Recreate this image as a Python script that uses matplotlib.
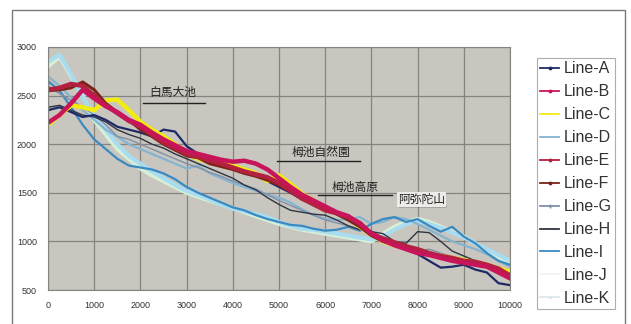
import numpy as np
import matplotlib
matplotlib.use("Agg")
import matplotlib.pyplot as plt
from matplotlib.patches import Rectangle

plt.rcParams['font.family'] = ['Liberation Sans', 'Noto Sans CJK JP', 'DejaVu Sans']

### Data
dist = list(range(0, 10001, 250))

line_a = [2350, 2380, 2330, 2280, 2300, 2250, 2180, 2150, 2120, 2080, 2150, 2130, 1980, 1900, 1870, 1820, 1760,
          1720, 1680, 1620, 1560, 1500, 1430, 1390, 1340, 1300, 1240, 1170, 1100, 1020, 980, 920, 870, 800, 730,
          740, 760, 710, 680, 570, 550]
line_b = [2220, 2300, 2420, 2560, 2470, 2390, 2330, 2250, 2200, 2120, 2050, 1990, 1930, 1900, 1870, 1840, 1820,
          1830, 1800, 1740, 1650, 1560, 1480, 1420, 1360, 1300, 1260, 1180, 1080, 1010, 960, 920, 880, 860, 830,
          800, 780, 760, 740, 680, 620]
line_c = [2200, 2300, 2400, 2380, 2350, 2450, 2460, 2350, 2230, 2150, 2080, 2000, 1900, 1850, 1820, 1800, 1780,
          1740, 1700, 1620, 1680, 1590, 1490, 1420, 1340, 1290, 1240, 1150, 1070, 1000, 960, 930, 900, 870, 850,
          830, 810, 780, 760, 720, 690]
line_d = [2700, 2600, 2480, 2350, 2250, 2150, 2080, 2000, 1950, 1900, 1850, 1800, 1750, 1780, 1700, 1650, 1600,
          1560, 1520, 1480, 1450, 1400, 1330, 1270, 1230, 1220, 1230, 1250, 1180, 1200, 1250, 1230, 1180, 1120, 1060,
          1000, 960, 920, 870, 800, 740]
line_e = [2560, 2580, 2620, 2600, 2500, 2400, 2320, 2240, 2180, 2100, 2020, 1960, 1900, 1870, 1830, 1800, 1760,
          1720, 1690, 1660, 1600, 1520, 1440, 1380, 1320, 1290, 1250, 1190, 1080, 1030, 990, 950, 920, 880, 850,
          830, 800, 790, 760, 720, 650]
line_f = [2550, 2560, 2580, 2640, 2560, 2420, 2330, 2250, 2150, 2080, 2000, 1940, 1880, 1860, 1800, 1770, 1740,
          1700, 1670, 1630, 1580, 1510, 1450, 1400, 1340, 1280, 1220, 1150, 1060, 1000, 970, 940, 900, 860, 840,
          820, 790, 770, 740, 700, 660]
line_g = [2600, 2520, 2450, 2380, 2300, 2200, 2080, 2050, 2000, 1950, 1900, 1850, 1800, 1760, 1710, 1670, 1620,
          1580, 1540, 1480, 1420, 1370, 1320, 1270, 1220, 1190, 1160, 1120, 1080, 1020, 980, 940, 900, 920, 880,
          840, 820, 780, 740, 700, 640]
line_h = [2380, 2400, 2350, 2300, 2280, 2230, 2150, 2100, 2060, 2000, 1960, 1900, 1850, 1800, 1750, 1700, 1650,
          1580, 1530, 1450, 1380, 1320, 1300, 1280, 1270, 1220, 1160, 1120, 1100, 1080, 1000, 980, 1100, 1090, 1000,
          900, 850, 800, 760, 720, 680]
line_i = [2650, 2550, 2380, 2200, 2050, 1950, 1850, 1780, 1760, 1740, 1700, 1640, 1560, 1500, 1450, 1400, 1350,
          1320, 1270, 1230, 1200, 1170, 1160, 1130, 1110, 1120, 1150, 1110, 1180, 1230, 1250, 1200, 1230, 1160, 1100,
          1150, 1050, 980, 880, 800, 760]
line_j = [2800, 2900, 2700, 2500, 2250, 2100, 1950, 1850, 1750, 1680, 1620, 1560, 1500, 1460, 1420, 1380, 1340,
          1300, 1260, 1220, 1180, 1150, 1120, 1100, 1080, 1060, 1040, 1020, 1000, 1080, 1150, 1200, 1230, 1200, 1150,
          1100, 1050, 980, 900, 820, 780]
line_k = [2850, 2920, 2720, 2480, 2300, 2150, 2000, 1880, 1800, 1720, 1650, 1580, 1520, 1480, 1430, 1380, 1340,
          1310, 1280, 1250, 1200, 1160, 1130, 1120, 1100, 1080, 1060, 1040, 1020, 1050, 1120, 1180, 1210, 1180, 1140,
          1090, 1040, 980, 920, 860, 800]

labels = ['Line-A', 'Line-B', 'Line-C', 'Line-D', 'Line-E', 'Line-F',
          'Line-G', 'Line-H', 'Line-I', 'Line-J', 'Line-K']

# place names and the spot where each label sits
places = ['白馬大池', '栂池自然園', '栂池高原', '阿弥陀山']
place_x = [2700, 5900, 6650, 8080]
place_y = [2530, 1910, 1550, 1430]
underline_x0 = [2050, 4950, 5850, 7600]
underline_x1 = [3400, 6750, 7450, 8600]
underline_y = [2420, 1830, 1475, 1360]

### Styles
series = [line_a, line_b, line_c, line_d, line_e, line_f, line_g, line_h, line_i, line_j, line_k]
colors = ['#1e2a66', '#c8145a', '#f2ec10', '#86b4d0', '#b42040', '#7a2418',
          '#8090a8', '#2e3442', '#3a8ac2', '#d6f0d8', '#a8dcee']
widths = [1.6, 3.2, 3.2, 1.6, 3.2, 2.2, 1.0, 1.0, 1.6, 3.0, 3.0]
markers = ['.', '.', None, None, '.', '.', '+', None, None, None, '.']
leg_colors = colors[:9] + ['#f2f4f4', '#dde8ee']

fig = plt.figure(figsize=(6.31, 3.24), dpi=100)
fig.patch.set_facecolor('white')
fig.patches.append(Rectangle((12 / 631, -0.1), 613 / 631, 1.1 - 10 / 324, transform=fig.transFigure,
                             fill=False, edgecolor='#7a7a7a', linewidth=1.0))

ax = fig.add_axes([48 / 631, 1 - 290 / 324, 462 / 631, 243 / 324])
ax.set_facecolor('#c9c6bf')

# draw the pale ones first so the dark ones sit on top, like in the original
order = [9, 10, 3, 8, 6, 7, 0, 2, 5, 4, 1]
for i in order:
    ax.plot(dist, series[i], color=colors[i], lw=widths[i], solid_joinstyle='round')

ax.set_xlim(0, 10000)
ax.set_ylim(500, 3000)
ax.set_xticks(range(0, 10001, 1000))
ax.set_yticks(range(500, 3001, 500))
ax.grid(color='#86847e', linewidth=0.9)
ax.set_axisbelow(True)
ax.tick_params(length=0, labelsize=6.5, labelcolor='#333333', pad=8)
for sp in ax.spines.values():
    sp.set_color('#86847e')

# place labels with underline
for name, tx, ty, x0, x1, uy in zip(places, place_x, place_y, underline_x0, underline_x1, underline_y):
    box = dict(facecolor='#ecebe8', edgecolor='none', pad=0.5) if name == '阿弥陀山' else None
    ax.text(tx, ty, name, fontsize=8.5, ha='center', va='center', color='#222222',
            family=['Noto Sans CJK JP', 'DejaVu Sans'], bbox=box)
    ax.plot([x0, x1], [uy, uy], color='#222222', lw=1.0)

# legend: short line samples with markers
leg_handles = [plt.Line2D([0], [0], color=leg_colors[i], lw=1.3, marker=markers[i], markersize=3.5)
               for i in range(len(labels))]
leg = fig.legend(leg_handles, labels, loc='upper left', bbox_to_anchor=(537 / 631, 1 - 58 / 324),
                 fontsize=11.5, frameon=True, fancybox=False, handlelength=1.2, handletextpad=0.3,
                 labelspacing=0.5, borderpad=0.2, borderaxespad=0)
leg.get_frame().set_edgecolor('#9a9a9a')
leg.get_frame().set_linewidth(0.8)
for t in leg.get_texts():
    t.set_color('#333333')

fig.savefig('out.png', dpi=100)
